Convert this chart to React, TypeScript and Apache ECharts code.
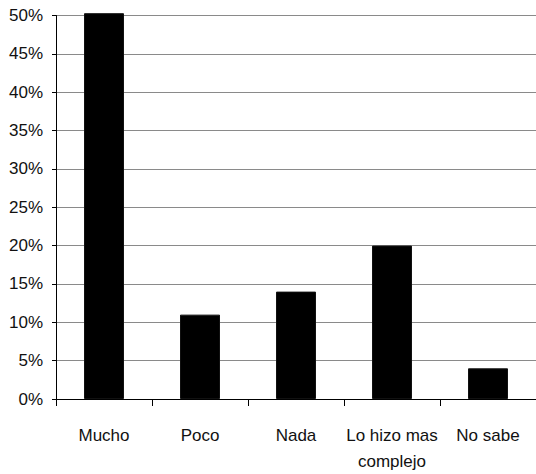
import React, { useEffect, useRef } from "react";
import * as echarts from "echarts";

const categories = ["Mucho", "Poco", "Nada", "Lo hizo mas\ncomplejo", "No sabe"];
const values = [50.3, 11, 14, 20, 4];
const yTicks = [0, 5, 10, 15, 20, 25, 30, 35, 40, 45, 50];

const FONT = "'Liberation Sans Narrow', 'Arial Narrow', 'Liberation Sans', Arial, sans-serif";

export default function App() {
  const ref = useRef<HTMLDivElement>(null);
  useEffect(() => {
    document.body.style.margin = "0";
    const chart = echarts.init(ref.current!, null, { renderer: "svg" });
    chart.setOption({
      animation: false,
      grid: { left: 56, right: -5, top: 15.5, bottom: 71, containLabel: false },
      xAxis: {
        type: "category",
        data: categories,
        axisLine: { lineStyle: { color: "#000", width: 1 } },
        axisTick: { show: true, length: 7, lineStyle: { color: "#000" } },
        axisLabel: {
          color: "#111",
          fontFamily: FONT,
          fontSize: 17,
          margin: 23,
          lineHeight: 26,
          interval: 0,
        },
      },
      yAxis: {
        type: "value",
        min: yTicks[0],
        max: yTicks[yTicks.length - 1],
        interval: 5,
        axisLine: { show: true, lineStyle: { color: "#000", width: 1 } },
        axisTick: { show: true, length: 4, lineStyle: { color: "#000" } },
        splitLine: { show: true, lineStyle: { color: "#8a8a8a", width: 1 } },
        axisLabel: {
          color: "#111",
          fontFamily: FONT,
          fontSize: 17,
          margin: 13,
          formatter: (v: number) => `${v}%`,
        },
      },
      series: [
        {
          type: "bar",
          data: values,
          barWidth: 40,
          clip: false,
          itemStyle: { color: "#000", borderColor: "#111", borderWidth: 1 },
        },
      ],
    });
    return () => chart.dispose();
  }, []);
  return <div ref={ref} style={{ width: 536, height: 474 }} />;
}
